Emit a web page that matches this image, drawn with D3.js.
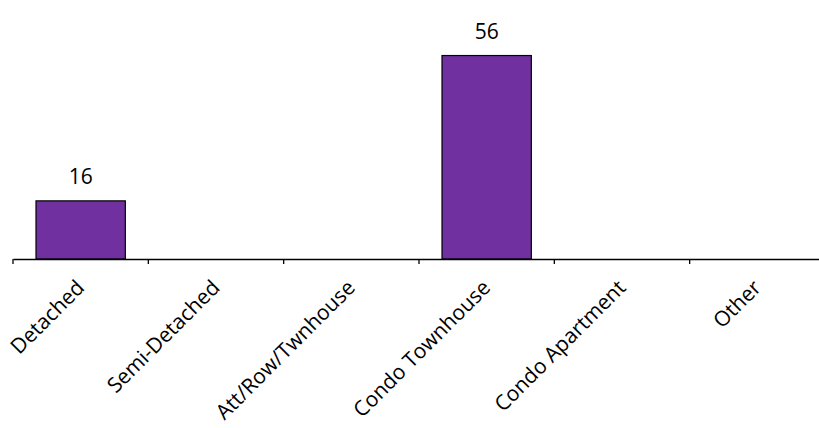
<!DOCTYPE html>
<html>
  <head>
    <meta charset="utf-8">
    <title>Property Types</title>
    <script src="https://d3js.org/d3.v7.min.js"></script>
    <style>
      body { margin: 0; background: #fff; }
      text { font-family: "Open Sans", sans-serif; fill: #000; }
    </style>
  </head>
  <body>
    <div id="chart"></div>
    <script>
      // Data
      var categories = ["Detached", "Semi-Detached", "Att/Row/Twnhouse",
                        "Condo Townhouse", "Condo Apartment", "Other"];
      var values = [16, null, null, 56, null, null];

      var W = 819, H = 428;
      var axisY = 259;

      var svg = d3.select("#chart")
        .append("svg")
          .attr("width", W)
          .attr("height", H);

      // Scales
      var x = d3.scaleBand()
        .domain(categories)
        .range([13, 825])
        .paddingInner(0.34)
        .paddingOuter(0.17);

      var y = d3.scaleLinear()
        .domain([0, 60])
        .range([axisY, 41]);

      var data = categories.map(function(c, i) { return {cat: c, v: values[i]}; });

      // Bars
      svg.selectAll("rect.bar")
        .data(data.filter(function(d) { return d.v != null; }))
        .enter()
        .append("rect")
          .attr("class", "bar")
          .attr("x", function(d) { return x(d.cat); })
          .attr("y", function(d) { return y(d.v); })
          .attr("width", x.bandwidth())
          .attr("height", function(d) { return axisY - y(d.v); })
          .style("fill", "#7030A0")
          .attr("stroke", "#000")
          .attr("stroke-width", 1.2);

      // Value labels
      svg.selectAll("text.val")
        .data(data.filter(function(d) { return d.v != null; }))
        .enter()
        .append("text")
          .attr("class", "val")
          .attr("x", function(d) { return x(d.cat) + x.bandwidth() / 2; })
          .attr("y", function(d) { return y(d.v) - 17; })
          .attr("text-anchor", "middle")
          .style("font-size", "21px")
          .text(function(d) { return d.v; });

      // X axis
      var xAxis = svg.append("g")
        .attr("transform", "translate(0," + axisY + ")")
        .call(d3.axisBottom(x).tickSizeInner(0).tickSizeOuter(0));

      xAxis.select(".domain").attr("stroke", "#000").attr("stroke-width", 1.3);

      xAxis.selectAll(".tick text")
        .style("font-size", "21px")
        .style("font-family", "'Open Sans', sans-serif")
        .attr("text-anchor", "end")
        .attr("dy", null)
        .attr("y", 0)
        .attr("transform", "translate(5,30) rotate(-45)");

      // Category boundary ticks
      var step = x.step();
      var bounds = categories.map(function(c) { return x(c) - step * x.paddingInner() / 2; });
      bounds.push(bounds[bounds.length - 1] + step);
      xAxis.selectAll("line.bound")
        .data(bounds)
        .enter()
        .append("line")
          .attr("class", "bound")
          .attr("x1", function(d) { return d; })
          .attr("x2", function(d) { return d; })
          .attr("y1", 0)
          .attr("y2", 5)
          .attr("stroke", "#000")
          .attr("stroke-width", 1.3);
    </script>
  </body>
</html>
